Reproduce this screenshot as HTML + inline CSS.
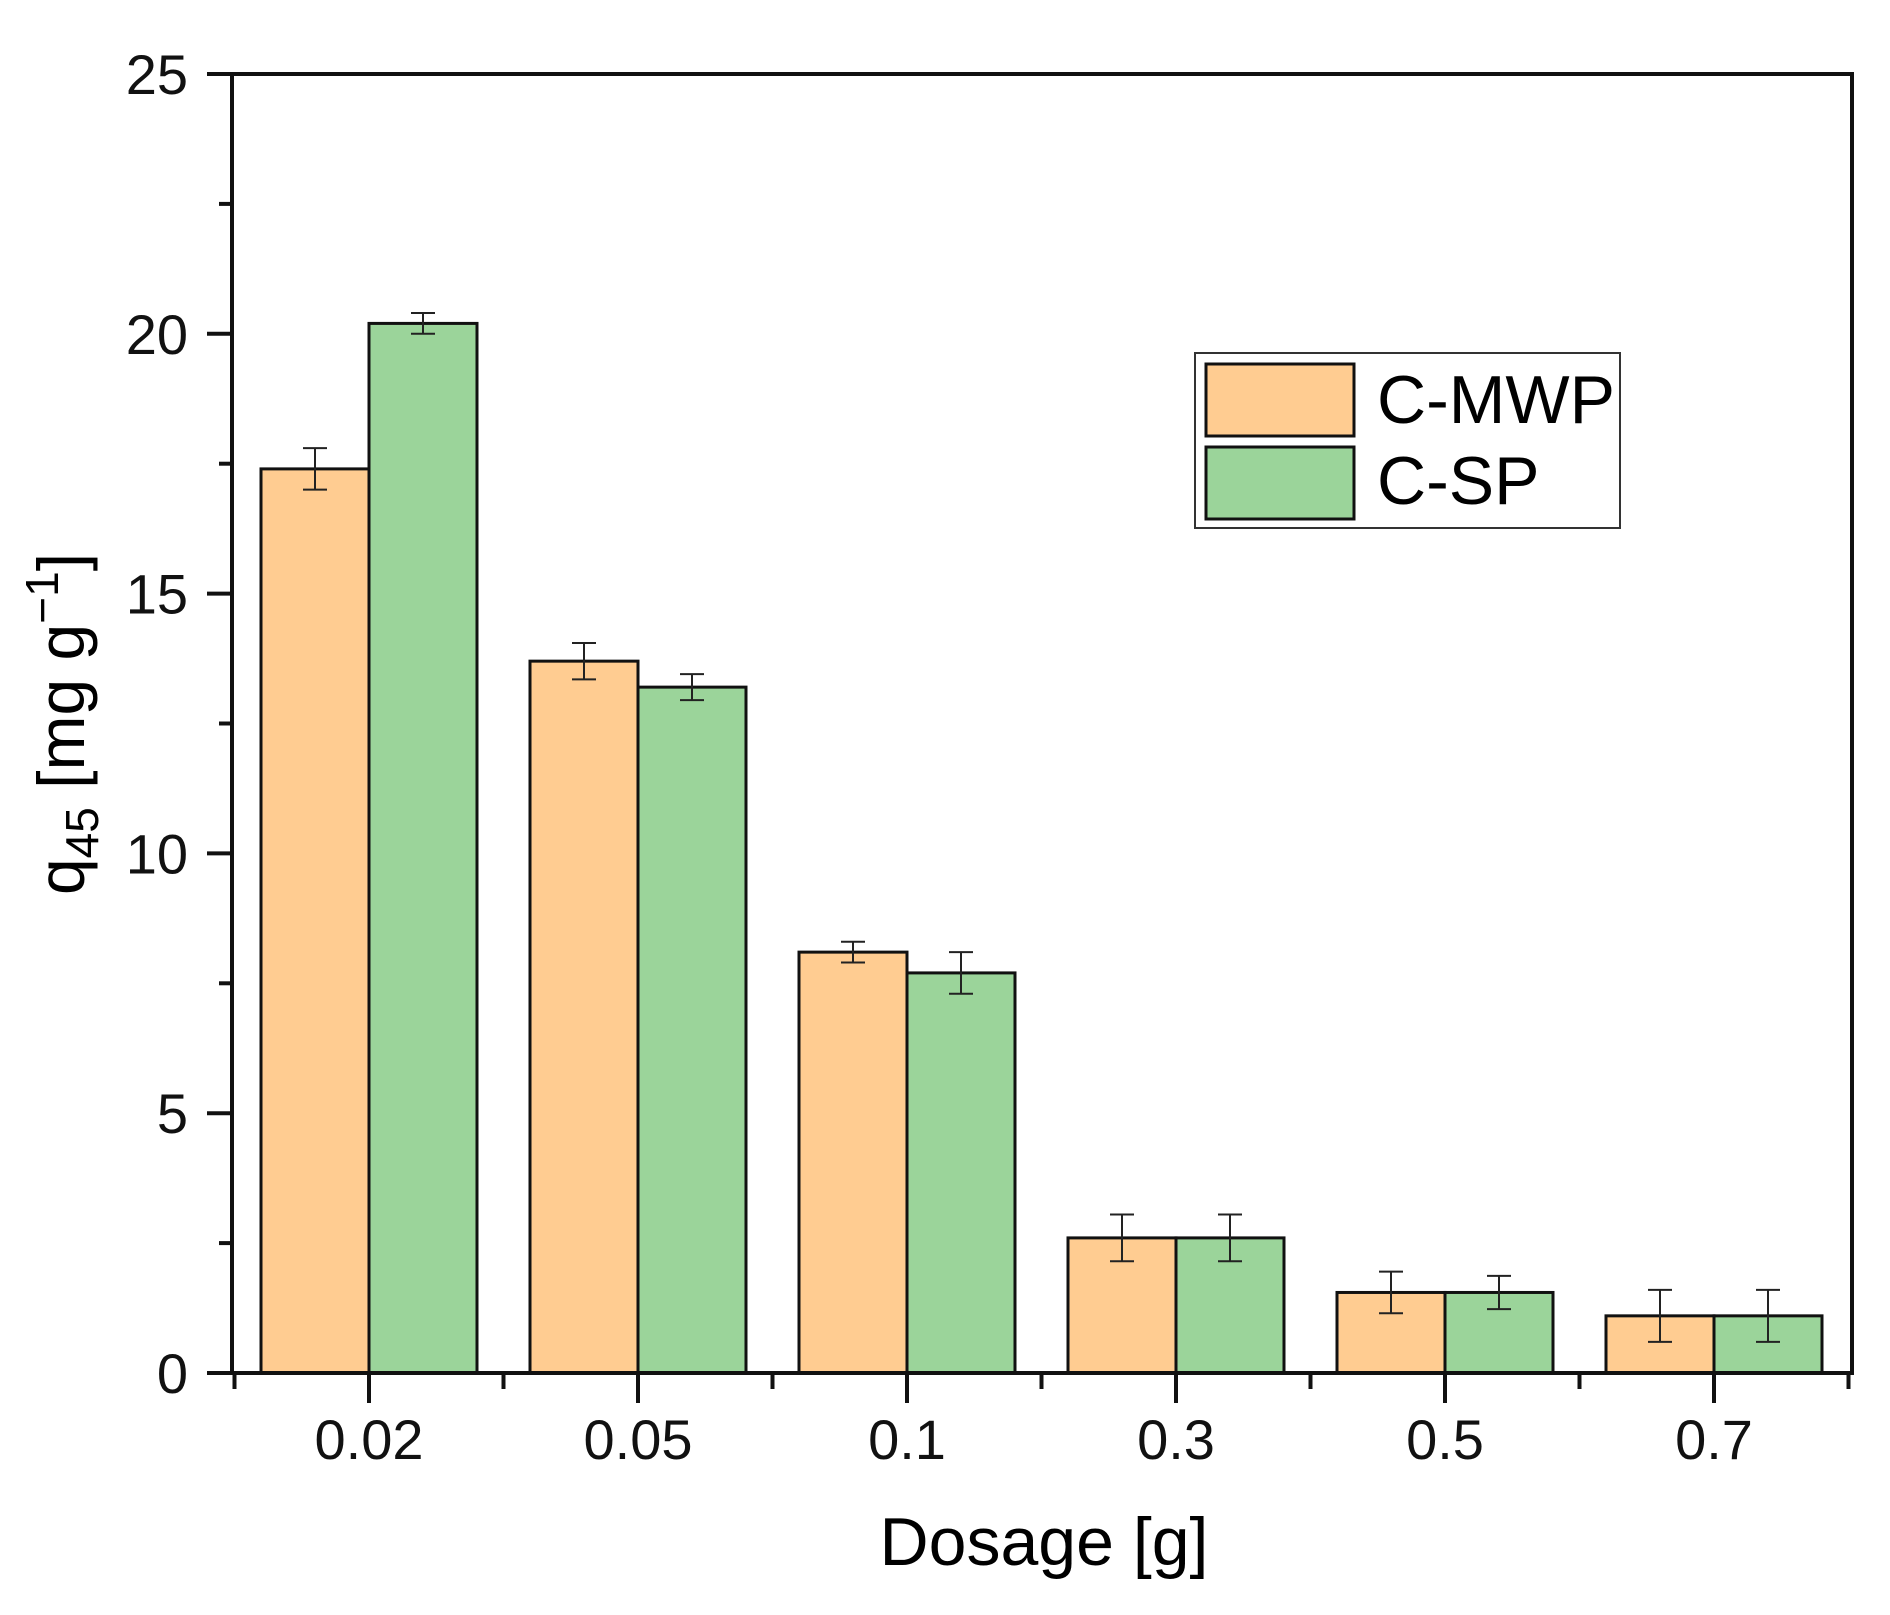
<!DOCTYPE html>
<html><head><meta charset="utf-8"><style>
html,body{margin:0;padding:0;background:#fff;}
svg{display:block;font-family:"Liberation Sans",Arial,sans-serif;}
</style></head><body>
<svg id="chart" width="1890" height="1615" viewBox="0 0 1890 1615" xmlns="http://www.w3.org/2000/svg">
<g id="bars"></g>
<g id="axes"></g>
<g>
<rect x="1195" y="353" width="425" height="175" fill="#fff" stroke="#333" stroke-width="2"/>
<rect x="1206" y="364" width="148" height="72" fill="#FFCC91" stroke="#111" stroke-width="3"/>
<text x="1377" y="423" font-size="68">C-MWP</text>
<rect x="1206" y="447" width="148" height="72" fill="#9BD49A" stroke="#111" stroke-width="3"/>
<text x="1377" y="504" font-size="68">C-SP</text>
</g>
<text x="1044" y="1565" font-size="68" text-anchor="middle">Dosage [g]</text>
<text transform="translate(84,724) rotate(-90)" font-size="66" text-anchor="middle">q<tspan font-size="46" dy="14">45</tspan><tspan dy="-14"> [mg g</tspan><tspan font-size="46" dy="-26">−1</tspan><tspan dy="26">]</tspan></text>
</svg>
<script>
const categories = ["0.02","0.05","0.1","0.3","0.5","0.7"];
const mwpValues = [17.4, 13.7, 8.1, 2.6, 1.55, 1.1];
const mwpErrors = [0.4, 0.35, 0.2, 0.45, 0.4, 0.5];
const spValues = [20.2, 13.2, 7.7, 2.6, 1.55, 1.1];
const spErrors = [0.2, 0.25, 0.4, 0.45, 0.32, 0.5];
const yTicks = [0, 5, 10, 15, 20, 25];

const NS = "http://www.w3.org/2000/svg";
const X0 = 232, X1 = 1852, Y0 = 1373, Ytop = 74;
const first = 369, step = 269, bw = 108;
const xc = i => first + i * step;
const y = v => Y0 - (v / 25) * (Y0 - Ytop);
function mk(tag, attrs, parent) {
  const e = document.createElementNS(NS, tag);
  for (const k in attrs) e.setAttribute(k, attrs[k]);
  parent.appendChild(e);
  return e;
}
const bars = document.getElementById('bars');
const axes = document.getElementById('axes');
function drawSeries(vals, errs, offset, color, name) {
  vals.forEach((v, i) => {
    const left = xc(i) + offset;
    const r = mk('rect', {x: left, y: y(v), width: bw, height: Y0 - y(v), fill: color, stroke: '#111', 'stroke-width': 3}, bars);
    
    
    const cx = left + bw / 2, e = errs[i];
    const g = mk('g', {stroke: '#222', 'stroke-width': 2, fill: 'none'}, bars);
    
    
    mk('line', {x1: cx, x2: cx, y1: y(v + e), y2: y(v - e)}, g);
    mk('line', {x1: cx - 12, x2: cx + 12, y1: y(v + e), y2: y(v + e)}, g);
    mk('line', {x1: cx - 12, x2: cx + 12, y1: y(v - e), y2: y(v - e)}, g);
  });
}
drawSeries(mwpValues, mwpErrors, -bw, '#FFCC91', 'c-mwp');
drawSeries(spValues, spErrors, 0, '#9BD49A', 'c-sp');

const frame = mk('rect', {x: X0, y: Ytop, width: X1 - X0, height: Y0 - Ytop, fill: 'none', stroke: '#111', 'stroke-width': 4}, axes);


yTicks.forEach(t => {
  const l = mk('line', {x1: X0 - 25, x2: X0, y1: y(t), y2: y(t), stroke: '#111', 'stroke-width': 4}, axes);
  
  
  const tx = mk('text', {x: 188, y: y(t) + 20, 'font-size': 56, 'text-anchor': 'end', fill: '#111'}, axes);
  tx.textContent = t;
  
  
  if (t < 25) {
    const m = mk('line', {x1: X0 - 13, x2: X0, y1: y(t + 2.5), y2: y(t + 2.5), stroke: '#111', 'stroke-width': 4}, axes);
    
    
  }
});
categories.forEach((c, i) => {
  const l = mk('line', {x1: xc(i), x2: xc(i), y1: Y0, y2: Y0 + 30, stroke: '#111', 'stroke-width': 4}, axes);
  
  
  const tx = mk('text', {x: xc(i), y: 1459, 'font-size': 56, 'text-anchor': 'middle', fill: '#111'}, axes);
  tx.textContent = c;
  
  
});
for (let i = 0; i <= categories.length; i++) {
  const mx = xc(i) - step / 2;
  if (mx < X0 || mx > X1) continue;
  const m = mk('line', {x1: mx, x2: mx, y1: Y0, y2: Y0 + 16, stroke: '#111', 'stroke-width': 4}, axes);
  
  
}
</script>
</body></html>
